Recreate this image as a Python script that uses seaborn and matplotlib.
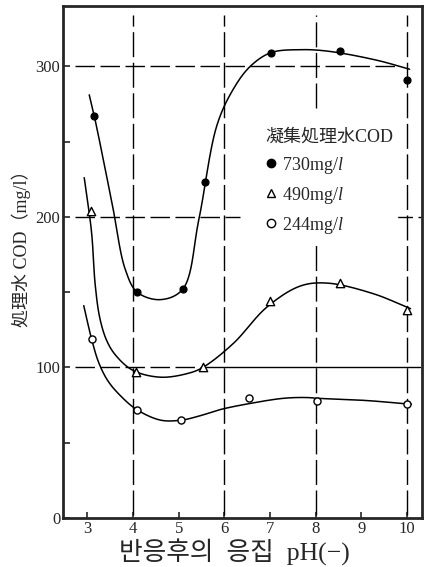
import numpy as np
import pandas as pd
import seaborn as sns
import matplotlib
matplotlib.use("Agg")
import matplotlib.pyplot as plt
from matplotlib.lines import Line2D

# ---- data ----
ph_730 = [3.15, 4.09, 5.09, 5.57, 7.02, 8.53, 10.0]
cod_730 = [267, 150, 152, 223, 309, 310, 291]
ph_490 = [3.08, 4.06, 5.54, 7.0, 8.53, 10.0]
cod_490 = [204, 97, 100, 144, 156, 138]
ph_244 = [3.09, 4.08, 5.06, 6.55, 8.03, 10.0]
cod_244 = [119, 72, 65, 80, 78, 76]

# hand-drawn smoothing curves (knots)
curve_730_x = [3.04, 3.15, 3.54, 3.83, 4.09, 4.6, 5.09, 5.44, 5.84,
               6.2, 6.57, 7.02, 7.66, 8.27, 9.34, 10.06]
curve_730_y = [281, 267, 209, 165, 150, 145, 152, 198, 261,
               285, 300, 309, 311, 310, 304, 298]
curve_490_x = [2.93, 3.09, 3.17, 3.27, 3.42, 3.62, 4.0, 4.6, 5.2, 5.53, 6.2,
               6.93, 7.66, 8.25, 9.26, 10.08]
curve_490_y = [226, 190, 155, 133, 118, 108, 98, 93.5, 96, 100, 116,
               140, 154, 156, 149, 139]
curve_244_x = [2.92, 3.09, 3.25, 3.45, 3.73, 4.08, 4.6, 5.06, 5.48, 5.91, 6.55,
               7.3, 7.81, 8.03, 9.12, 10.1]
curve_244_y = [141, 119, 103, 91, 81, 72, 65, 65, 68, 72, 76,
               79.5, 80, 79.5, 78, 75.5]

labels = ["730mg/$l$", "490mg/$l$", "244mg/$l$"]
legend_title = "凝集処理水COD"
x_ticks = [3, 4, 5, 6, 7, 8, 9, 10]
y_ticks = [0, 100, 200, 300]
y_minor = [50, 150, 250]
xlabel = "반응후의  응집  pH(−)"
ylabel = "処理水 COD（mg/l）"

XS, YS = 45.8, 1.505  # px per data unit, used only for even curve smoothing


def smooth(xs, ys, n=40, alpha=0.5):
    """Centripetal Catmull-Rom through the hand-drawn knots."""
    P = np.column_stack([np.asarray(xs) * XS, np.asarray(ys) * YS]).astype(float)
    P = np.vstack([2 * P[0] - P[1], P, 2 * P[-1] - P[-2]])
    pts = []
    for i in range(1, len(P) - 2):
        p0, p1, p2, p3 = P[i - 1], P[i], P[i + 1], P[i + 2]
        t0 = 0.0
        t1 = t0 + np.linalg.norm(p1 - p0) ** alpha
        t2 = t1 + np.linalg.norm(p2 - p1) ** alpha
        t3 = t2 + np.linalg.norm(p3 - p2) ** alpha
        t = np.linspace(t1, t2, n, endpoint=False)[:, None]
        a1 = (t1 - t) / (t1 - t0) * p0 + (t - t0) / (t1 - t0) * p1
        a2 = (t2 - t) / (t2 - t1) * p1 + (t - t1) / (t2 - t1) * p2
        a3 = (t3 - t) / (t3 - t2) * p2 + (t - t2) / (t3 - t2) * p3
        b1 = (t2 - t) / (t2 - t0) * a1 + (t - t0) / (t2 - t0) * a2
        b2 = (t3 - t) / (t3 - t1) * a2 + (t - t1) / (t3 - t1) * a3
        c = (t2 - t) / (t2 - t1) * b1 + (t - t1) / (t2 - t1) * b2
        pts.append(c)
    pts.append(P[-2][None, :])
    arr = np.vstack(pts)
    return arr[:, 0] / XS, arr[:, 1] / YS


sns.set_style("ticks")
plt.rcParams["font.family"] = ["Liberation Serif", "Noto Sans CJK JP", "DejaVu Sans"]
plt.rcParams["mathtext.fontset"] = "custom"
plt.rcParams["mathtext.it"] = "Liberation Serif:italic"
plt.rcParams["mathtext.rm"] = "Liberation Serif"

fig = plt.figure(figsize=(4.24, 5.67), dpi=100)
ax = fig.add_axes([63 / 424, 1 - 518 / 567, (421.5 - 63) / 424, (518 - 6) / 567])

# dashed reference lines
dash = (0, (14, 4))
vdash = (0, (18, 4))
ax.plot([2.72, 9.75], [300, 300], color="black", lw=1.0, ls=dash, zorder=1)
ax.plot([2.72, 6.35], [200, 200], color="black", lw=1.0, ls=dash, zorder=1)
ax.plot([9.7, 10.3], [200, 200], color="black", lw=1.0, ls=dash, zorder=1)
ax.plot([2.72, 5.8], [100, 100], color="black", lw=1.0, ls=dash, zorder=1)
ax.plot([5.8, 10.28], [100, 100], color="black", lw=1.0, ls="-", zorder=1)
for xv in [4, 6, 10]:
    ax.plot([xv, xv], [2, 334], color="black", lw=1.0, ls=vdash, zorder=1)
ax.plot([8, 8], [2, 183], color="black", lw=1.0, ls=vdash, zorder=1)
ax.plot([8, 8], [272, 334], color="black", lw=1.0, ls=vdash, zorder=1)

# curves
for cx, cy in [(curve_730_x, curve_730_y), (curve_490_x, curve_490_y), (curve_244_x, curve_244_y)]:
    sx, sy = smooth(cx, cy)
    ax.plot(sx, sy, color="black", lw=1.1, zorder=2)

# points
d730 = pd.DataFrame({"pH": ph_730, "COD": cod_730})
d490 = pd.DataFrame({"pH": ph_490, "COD": cod_490})
d244 = pd.DataFrame({"pH": ph_244, "COD": cod_244})
sns.scatterplot(data=d730, x="pH", y="COD", ax=ax, marker="o", s=26, color="black",
                edgecolor="black", linewidth=0.8, zorder=3)
sns.scatterplot(data=d490, x="pH", y="COD", ax=ax, marker="^", s=36, facecolor="white",
                edgecolor="black", linewidth=1.0, zorder=3)
sns.scatterplot(data=d244, x="pH", y="COD", ax=ax, marker="o", s=26, facecolor="white",
                edgecolor="black", linewidth=1.0, zorder=3)

ax.set_xlim(2.465, 10.32)
ax.set_ylim(0, 340)
ax.set_xticks(x_ticks)
ax.set_yticks(y_ticks)
ax.set_yticks(y_minor, minor=True)
ax.tick_params(axis="both", direction="in", length=5, width=1.2, labelsize=12, pad=2)
ax.tick_params(axis="y", which="minor", direction="in", length=5, width=1.2)
ax.tick_params(axis="x", length=4)
for sp in ax.spines.values():
    sp.set_linewidth(2.0)
    sp.set_visible(True)

ax.set_xlabel(xlabel, fontsize=18.5, family=["Liberation Serif", "Noto Sans CJK KR", "DejaVu Sans"])
ax.xaxis.set_label_coords(0.477, -0.068)
ax.xaxis.label.set_va("center")
ax.set_ylabel(ylabel, fontsize=13, family=["Liberation Serif", "Noto Sans CJK JP", "DejaVu Sans"])
ax.yaxis.set_label_coords(-0.117, 0.535)
ax.yaxis.label.set_va("center")

handles = [
    Line2D([], [], ls="none", marker="o", ms=6, mfc="black", mec="black"),
    Line2D([], [], ls="none", marker="^", ms=6, mfc="white", mec="black"),
    Line2D([], [], ls="none", marker="o", ms=6, mfc="white", mec="black"),
]
leg = ax.legend(handles, labels, title=legend_title, loc="upper left",
                bbox_to_anchor=(0.53, 0.785), frameon=True, framealpha=1.0,
                edgecolor="white", facecolor="white", fontsize=13,
                title_fontsize=13, handlelength=0.6, handletextpad=0.3,
                labelspacing=0.5, borderpad=0.2, alignment="left")
leg.get_title().set_family(["Liberation Serif", "Noto Sans CJK JP", "DejaVu Sans"])
leg.set_zorder(4)

fig.savefig("out.png", dpi=100)
